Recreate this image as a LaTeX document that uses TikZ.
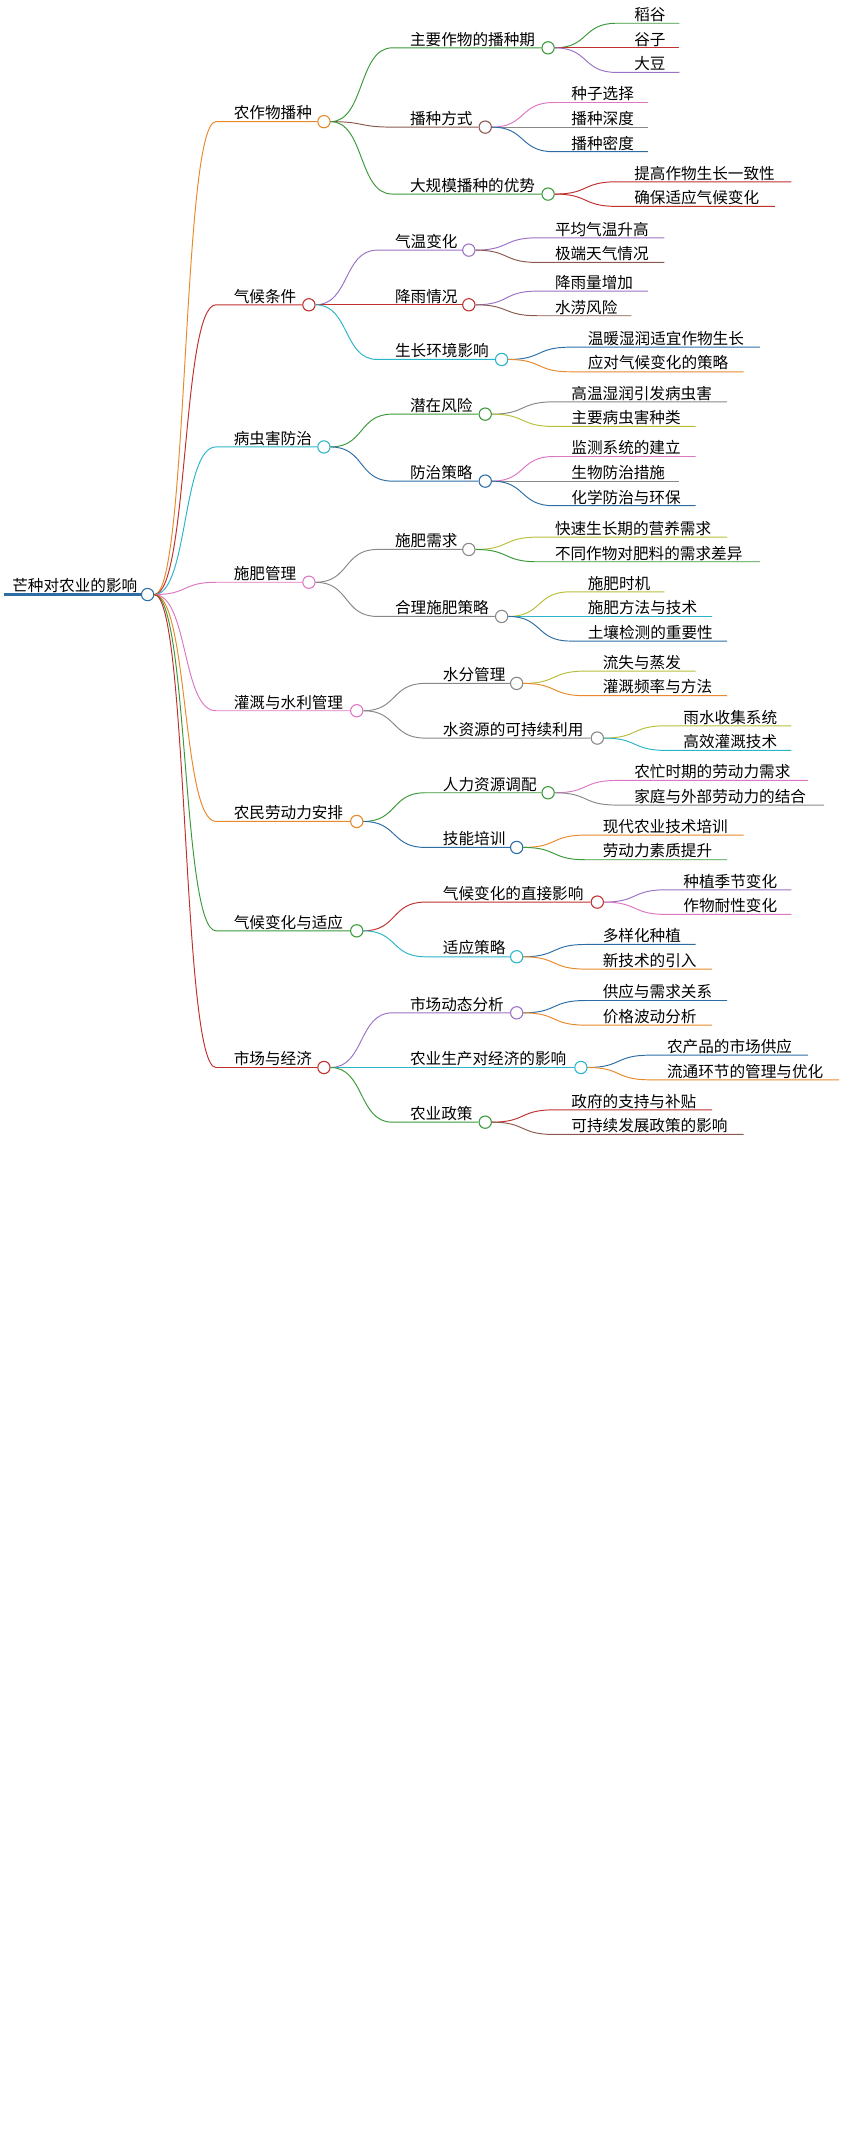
\documentclass[tikz,border=0pt]{standalone}
\usepackage{fontspec}
\setmainfont{Noto Sans CJK SC}
\definecolor{corange}{HTML}{E8892B}
\definecolor{cred}{HTML}{C0302F}
\definecolor{ccyan}{HTML}{2BB5C8}
\definecolor{cpink}{HTML}{DD77C3}
\definecolor{cgreen}{HTML}{3A9A3A}
\definecolor{cpurple}{HTML}{9B72C4}
\definecolor{cbrown}{HTML}{8B5A4E}
\definecolor{cgray}{HTML}{888888}
\definecolor{cblue}{HTML}{2E6DA4}
\definecolor{colive}{HTML}{B9BE3A}
\tikzset{
  dot/.style={circle, fill=white, line width=0.9pt, minimum size=0.36cm, inner sep=0pt},
  link/.style={line width=0.8pt},
  lbl/.style={anchor=south west, inner sep=1pt, font=\fontsize{13}{15}\selectfont}
}
% #1 parent, #2 parent x, #3 name, #4 circle x, #5 y, #6 colour, #7 text
\newcommand{\topic}[7]{%
  \draw[link,#6] (#1.east) .. controls +(25,0) and +(-25,0) .. (#2+50,#5) -- (#4-5,#5);
  \node[dot,draw=#6] (#3) at (#4,#5) {};
  \node[lbl] at (#2+62,#5) {#7};
}
% #1 parent, #2 parent x, #3 name, #4 end x, #5 y, #6 colour, #7 text
\newcommand{\leaf}[7]{%
  \coordinate (#3) at (#4,#5);
  \draw[link,#6] (#1.east) .. controls +(25,0) and +(-25,0) .. (#2+50,#5) -- (#3);
  \node[lbl] at (#2+62,#5) {#7};
}
\begin{document}
\begin{tikzpicture}[x=0.04cm, y=-0.04cm]
  \useasboundingbox (0,0) rectangle (620,1573);

  % root
  \draw[cblue, line width=2pt] (3,435) -- (103,435);
  \node[dot,draw=cblue] (root) at (108,435) {};
  \node[lbl] at (8,435) {芒种对农业的影响};

  % level 1
  \topic{root}{108}{sow}{237}{89}{corange}{农作物播种}
  \topic{root}{108}{clim}{226}{223}{cred}{气候条件}
  \topic{root}{108}{pest}{237}{327}{ccyan}{病虫害防治}
  \topic{root}{108}{fert}{226}{426}{cpink}{施肥管理}
  \topic{root}{108}{irr}{261}{520}{cpink}{灌溉与水利管理}
  \topic{root}{108}{labor}{261}{601}{corange}{农民劳动力安排}
  \topic{root}{108}{adapt}{261}{681}{cgreen}{气候变化与适应}
  \topic{root}{108}{mkt}{237}{781}{cred}{市场与经济}

  % 农作物播种
  \topic{sow}{237}{period}{401}{35}{cgreen}{主要作物的播种期}
  \topic{sow}{237}{method}{355}{93}{cbrown}{播种方式}
  \topic{sow}{237}{scale}{401}{142}{cgreen}{大规模播种的优势}
  \leaf{period}{401}{l1}{497}{17}{cgreen}{稻谷}
  \leaf{period}{401}{l2}{497}{35}{cred}{谷子}
  \leaf{period}{401}{l3}{497}{53}{cpurple}{大豆}
  \leaf{method}{355}{l4}{474}{75}{cpink}{种子选择}
  \leaf{method}{355}{l5}{474}{93}{cgray}{播种深度}
  \leaf{method}{355}{l6}{474}{111}{cblue}{播种密度}
  \leaf{scale}{401}{l7}{579}{133}{cred}{提高作物生长一致性}
  \leaf{scale}{401}{l8}{567}{151}{cred}{确保适应气候变化}

  % 气候条件
  \topic{clim}{226}{temp}{343}{183}{cpurple}{气温变化}
  \topic{clim}{226}{rain}{343}{223}{cred}{降雨情况}
  \topic{clim}{226}{env}{367}{263}{ccyan}{生长环境影响}
  \leaf{temp}{343}{l9}{486}{174}{cpurple}{平均气温升高}
  \leaf{temp}{343}{l10}{486}{192}{cbrown}{极端天气情况}
  \leaf{rain}{343}{l11}{474}{213}{cpurple}{降雨量增加}
  \leaf{rain}{343}{l12}{462}{231}{cbrown}{水涝风险}
  \leaf{env}{367}{l13}{556}{254}{cblue}{温暖湿润适宜作物生长}
  \leaf{env}{367}{l14}{544}{272}{corange}{应对气候变化的策略}

  % 病虫害防治
  \topic{pest}{237}{risk}{355}{303}{cgreen}{潜在风险}
  \topic{pest}{237}{ctrl}{355}{352}{cblue}{防治策略}
  \leaf{risk}{355}{l15}{532}{294}{cgray}{高温湿润引发病虫害}
  \leaf{risk}{355}{l16}{509}{312}{colive}{主要病虫害种类}
  \leaf{ctrl}{355}{l17}{509}{334}{cpink}{监测系统的建立}
  \leaf{ctrl}{355}{l18}{497}{352}{cgray}{生物防治措施}
  \leaf{ctrl}{355}{l19}{509}{370}{cblue}{化学防治与环保}

  % 施肥管理
  \topic{fert}{226}{need}{343}{402}{cgray}{施肥需求}
  \topic{fert}{226}{plan}{367}{451}{cgray}{合理施肥策略}
  \leaf{need}{343}{l20}{532}{393}{colive}{快速生长期的营养需求}
  \leaf{need}{343}{l21}{556}{411}{cgreen}{不同作物对肥料的需求差异}
  \leaf{plan}{367}{l22}{486}{433}{colive}{施肥时机}
  \leaf{plan}{367}{l23}{521}{451}{ccyan}{施肥方法与技术}
  \leaf{plan}{367}{l24}{532}{469}{cblue}{土壤检测的重要性}

  % 灌溉与水利管理
  \topic{irr}{261}{water}{378}{500}{cgray}{水分管理}
  \topic{irr}{261}{sust}{437}{540}{cgray}{水资源的可持续利用}
  \leaf{water}{378}{l25}{509}{491}{colive}{流失与蒸发}
  \leaf{water}{378}{l26}{532}{509}{corange}{灌溉频率与方法}
  \leaf{sust}{437}{l27}{579}{531}{colive}{雨水收集系统}
  \leaf{sust}{437}{l28}{579}{549}{ccyan}{高效灌溉技术}

  % 农民劳动力安排
  \topic{labor}{261}{hr}{401}{580}{cgreen}{人力资源调配}
  \topic{labor}{261}{skill}{378}{620}{cblue}{技能培训}
  \leaf{hr}{401}{l29}{591}{571}{cpink}{农忙时期的劳动力需求}
  \leaf{hr}{401}{l30}{603}{589}{cgray}{家庭与外部劳动力的结合}
  \leaf{skill}{378}{l31}{544}{611}{corange}{现代农业技术培训}
  \leaf{skill}{378}{l32}{532}{629}{cgreen}{劳动力素质提升}

  % 气候变化与适应
  \topic{adapt}{261}{direct}{437}{660}{cred}{气候变化的直接影响}
  \topic{adapt}{261}{strat}{378}{700}{ccyan}{适应策略}
  \leaf{direct}{437}{l33}{579}{651}{cpurple}{种植季节变化}
  \leaf{direct}{437}{l34}{579}{669}{cpink}{作物耐性变化}
  \leaf{strat}{378}{l35}{509}{691}{cblue}{多样化种植}
  \leaf{strat}{378}{l36}{521}{709}{corange}{新技术的引入}

  % 市场与经济
  \topic{mkt}{237}{dyn}{378}{741}{cpurple}{市场动态分析}
  \topic{mkt}{237}{econ}{425}{781}{ccyan}{农业生产对经济的影响}
  \topic{mkt}{237}{policy}{355}{821}{cgreen}{农业政策}
  \leaf{dyn}{378}{l37}{532}{732}{cblue}{供应与需求关系}
  \leaf{dyn}{378}{l38}{521}{750}{corange}{价格波动分析}
  \leaf{econ}{425}{l39}{591}{772}{cblue}{农产品的市场供应}
  \leaf{econ}{425}{l40}{614}{790}{corange}{流通环节的管理与优化}
  \leaf{policy}{355}{l41}{521}{812}{cred}{政府的支持与补贴}
  \leaf{policy}{355}{l42}{544}{830}{cbrown}{可持续发展政策的影响}
\end{tikzpicture}
\end{document}
